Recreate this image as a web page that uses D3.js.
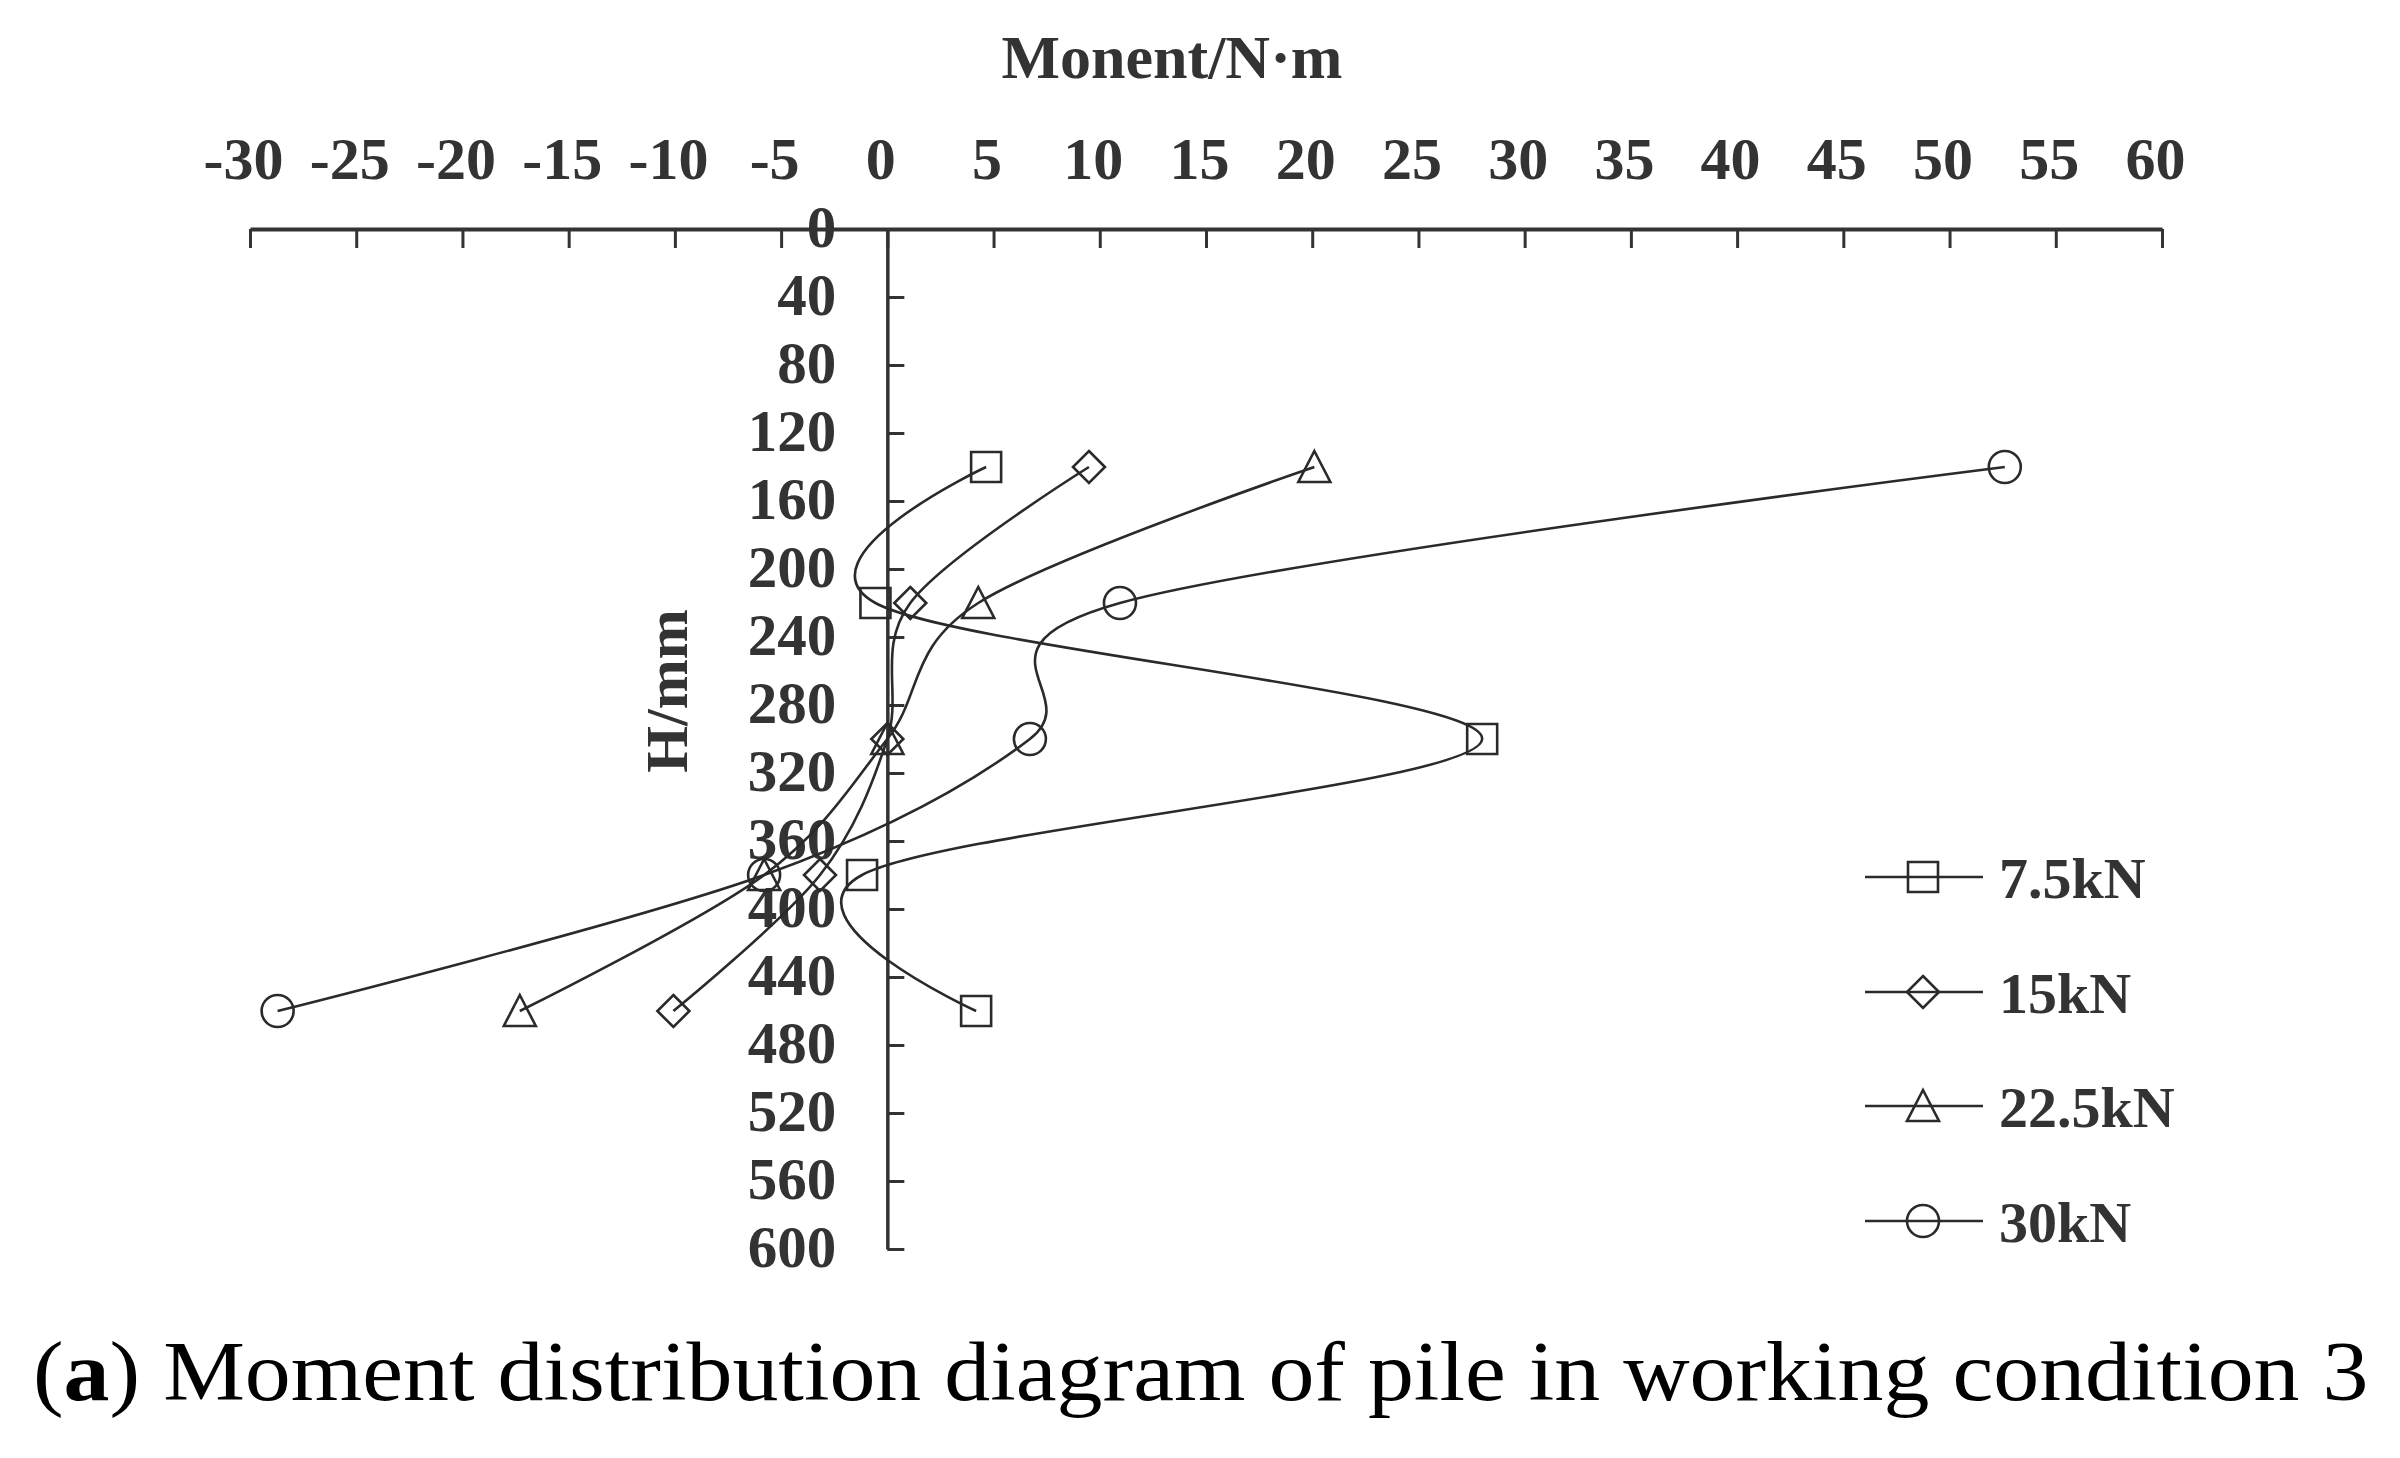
<!DOCTYPE html>
<html><head><meta charset="utf-8">
<script src="https://cdn.jsdelivr.net/npm/d3@7"></script>
<style>html,body{margin:0;padding:0;background:#fff;}</style>
</head><body>
<svg id="c" width="2400" height="1458" xmlns="http://www.w3.org/2000/svg"></svg>
<script>
// ---- data ----
const depths = [140, 220, 300, 380, 460];
const m75  = [4.65, -0.56, 28.0, -1.19, 4.18];
const m15  = [9.49, 1.08, 0.0, -3.17, -10.07];
const m225 = [20.1, 4.28, 0.0, -5.8, -17.3];
const m30  = [52.6, 10.95, 6.71, -5.8, -28.7];
const seriesNames = ["7.5kN", "15kN", "22.5kN", "30kN"];
const seriesMarkers = ["square", "diamond", "triangle", "circle"];
const xTicks = [-30, -25, -20, -15, -10, -5, 0, 5, 10, 15, 20, 25, 30, 35, 40, 45, 50, 55, 60];
const yTicks = [0, 40, 80, 120, 160, 200, 240, 280, 320, 360, 400, 440, 480, 520, 560, 600];
const xTitle = "Monent/N·m";
const yTitle = "H/mm";

const seriesValues = [m75, m15, m225, m30];

const svg = d3.select("#c");
svg.append("rect").attr("width", 2400).attr("height", 1458).attr("fill", "#fff");

const x = d3.scaleLinear().domain([-30, 60]).range([250, 2162]);
const y = d3.scaleLinear().domain([0, 600]).range([229, 1249]);

const ink = "#333";
const font = "'Liberation Serif', 'Times New Roman', serif";

// top (horizontal) axis
const gx = svg.append("g").attr("transform", `translate(0,${y(0)})`)
  .call(d3.axisTop(x).tickValues(xTicks).tickSizeInner(-19).tickSizeOuter(0).tickPadding(50)
        .tickFormat(d => String(d)));
gx.select(".domain").attr("stroke", ink).attr("stroke-width", 4);
gx.selectAll(".tick line").attr("stroke", ink).attr("stroke-width", 3);
gx.selectAll(".tick text").attr("fill", ink).attr("font-family", font).attr("font-weight", "bold")
  .attr("font-size", 60).attr("dx", -7);

// vertical axis at x = 0
const gy = svg.append("g").attr("transform", `translate(${x(0)},0)`)
  .call(d3.axisLeft(y).tickValues(yTicks).tickSizeInner(-17).tickSizeOuter(0).tickPadding(51)
        .tickFormat(d => String(d)));
gy.select(".domain").attr("stroke", ink).attr("stroke-width", 3.5);
gy.selectAll(".tick line").attr("stroke", ink).attr("stroke-width", 3);
gy.selectAll(".tick text").attr("fill", ink).attr("font-family", font).attr("font-weight", "bold")
  .attr("font-size", 59).attr("dy", "0.3em");
gx.attr("font-size", null); gy.attr("font-size", null);

// titles
svg.append("text").attr("x", 1172).attr("y", 78).attr("text-anchor", "middle")
  .attr("font-family", font).attr("font-weight", "bold").attr("font-size", 62).attr("fill", ink)
  .text(xTitle);
svg.append("text").attr("transform", "translate(687,691) rotate(-90)").attr("text-anchor", "middle")
  .attr("font-family", font).attr("font-weight", "bold").attr("font-size", 60).attr("fill", ink)
  .text(yTitle);

// marker paths
function markerPath(type) {
  switch (type) {
    case "square": return "M-15,-15H15V15H-15Z";
    case "diamond": return "M0,-16L16,0L0,16L-16,0Z";
    case "triangle": return "M0,-16L16,15L-16,15Z";
    case "circle": return "M16,0A16,16 0 1,1 -16,0A16,16 0 1,1 16,0Z";
  }
}

const line = d3.line().x(d => x(d.v)).y(d => y(d.h)).curve(d3.curveCardinal.tension(0));

seriesValues.forEach((vals, i) => {
  const pts = depths.map((h, j) => ({ h, v: vals[j] }));
  svg.append("path").datum(pts).attr("d", line).attr("fill", "none")
    .attr("stroke", "#2a2a2a").attr("stroke-width", 2.6);
  svg.append("g").selectAll("path").data(pts).join("path")
    .attr("transform", d => `translate(${x(d.v)},${y(d.h)})`)
    .attr("d", markerPath(seriesMarkers[i]))
    .attr("fill", "none").attr("stroke", "#2a2a2a").attr("stroke-width", 2.6);
});

// legend
const legendY = [877, 992, 1106, 1221];
seriesNames.forEach((name, i) => {
  const g = svg.append("g").attr("transform", `translate(0,${legendY[i]})`);
  g.append("line").attr("x1", 1865).attr("x2", 1983).attr("y1", 0).attr("y2", 0)
    .attr("stroke", "#2a2a2a").attr("stroke-width", 2.6);
  g.append("path").attr("transform", "translate(1923,0)").attr("d", markerPath(seriesMarkers[i]))
    .attr("fill", "none").attr("stroke", "#2a2a2a").attr("stroke-width", 2.6);
  g.append("text").attr("x", 1999).attr("y", 21).attr("font-family", font).attr("font-weight", "bold")
    .attr("font-size", 58).attr("fill", ink).text(name);
});

// caption
const cap = svg.append("text").attr("x", 33).attr("y", 1400)
  .attr("font-family", font).attr("font-size", 84).attr("fill", "#000");
cap.append("tspan").text("(");
cap.append("tspan").attr("font-weight", "bold").text("a");
cap.append("tspan").text(") Moment distribution diagram of pile in working condition 3");
const w = cap.node().getComputedTextLength();
const target = 2336;
const s = target / w;
cap.attr("transform", `translate(${33 - 33 * s},0) scale(${s},1)`);
</script>
</body></html>
